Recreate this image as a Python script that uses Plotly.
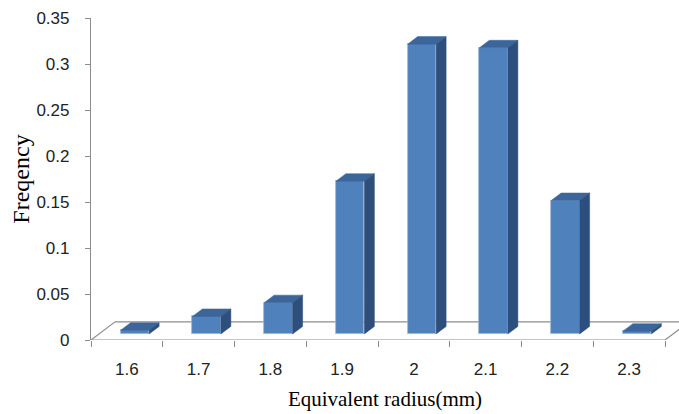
import plotly.graph_objects as go

# ---- data ----
categories = ["1.6", "1.7", "1.8", "1.9", "2", "2.1", "2.2", "2.3"]
frequency = [0.004, 0.019, 0.034, 0.166, 0.315, 0.311, 0.145, 0.003]
y_ticks = [0, 0.05, 0.1, 0.15, 0.2, 0.25, 0.3, 0.35]
y_tick_text = ["0", "0.05", "0.1", "0.15", "0.2", "0.25", "0.3", "0.35"]

# ---- pseudo-3D geometry (in axis units) ----
DEPTH_X = 0.3345    # floor depth along x (category units)
DEPTH_Y = 0.0197    # floor depth along y (value units)
D_FRONT = 1 / 3     # depth position of bar front face
D_BACK = 0.75       # depth position of bar back face
BAR_W = 0.397

FRONT = "#4F81BD"
TOP = "#3C659A"
SIDE = "#2E4F7C"
EDGE = "#9DB7DA"
AXIS = "#8C8C8C"

n = len(categories)
idx = list(range(n))
fx = DEPTH_X * D_FRONT
fy = DEPTH_Y * D_FRONT
ddx = DEPTH_X * (D_BACK - D_FRONT)
ddy = DEPTH_Y * (D_BACK - D_FRONT)

fig = go.Figure()

# front faces (bars)
fig.add_trace(go.Bar(
    x=[i + fx for i in idx], y=frequency, base=[fy] * n, width=BAR_W,
    marker=dict(color=FRONT, line=dict(color=EDGE, width=0.8)),
    hoverinfo="skip", showlegend=False,
))

# top and side faces
top_x, top_y, side_x, side_y = [], [], [], []
for i, v in zip(idx, frequency):
    xl = i + fx - BAR_W / 2
    xr = i + fx + BAR_W / 2
    yb = fy
    yt = v + fy
    top_x += [xl, xr, xr + ddx, xl + ddx, xl, None]
    top_y += [yt, yt, yt + ddy, yt + ddy, yt, None]
    side_x += [xr, xr, xr + ddx, xr + ddx, xr, None]
    side_y += [yb, yt, yt + ddy, yb + ddy, yb, None]

fig.add_trace(go.Scatter(x=top_x, y=top_y, fill="toself", fillcolor=TOP,
                         mode="lines", line=dict(color=TOP, width=0.5),
                         hoverinfo="skip", showlegend=False))
fig.add_trace(go.Scatter(x=side_x, y=side_y, fill="toself", fillcolor=SIDE,
                         mode="lines", line=dict(color=SIDE, width=0.5),
                         hoverinfo="skip", showlegend=False))

x_lo, x_hi = -0.5, n - 0.5
# floor outline
floor = [
    (x_lo, 0, x_hi, 0),
    (x_lo, 0, x_lo + DEPTH_X, DEPTH_Y),
    (x_lo + DEPTH_X, DEPTH_Y, x_hi + DEPTH_X, DEPTH_Y),
    (x_hi, 0, x_hi + DEPTH_X, DEPTH_Y),
]
for x0, y0, x1, y1 in floor:
    fig.add_shape(type="line", x0=x0, y0=y0, x1=x1, y1=y1, xref="x", yref="y",
                  line=dict(color=AXIS, width=1.2), layer="below")

fig.update_layout(
    width=679, height=414,
    margin=dict(l=91, r=0, t=18, b=74),
    plot_bgcolor="white", paper_bgcolor="white",
    bargap=0,
    xaxis=dict(
        range=[x_lo, x_lo + 588 / 71.75],
        tickmode="array", tickvals=idx, ticktext=categories,
        ticks="", showline=False, showgrid=False, zeroline=False,
        ticklabelstandoff=17,
        tickfont=dict(family="Liberation Sans", size=17, color="#222"),
        minor=dict(tickmode="array", tickvals=[i - 0.5 for i in range(n + 1)],
                   ticks="outside", ticklen=6, tickcolor=AXIS, tickwidth=1.2,
                   showgrid=False),
        title=dict(text="Equivalent radius(mm)", standoff=13,
                   font=dict(family="Liberation Serif", size=21, color="#000")),
    ),
    yaxis=dict(
        range=[0, 0.35],
        tickmode="array", tickvals=y_ticks, ticktext=y_tick_text,
        ticks="outside", ticklen=5, tickcolor=AXIS, tickwidth=1.2,
        showline=True, linecolor=AXIS, linewidth=1.2,
        showgrid=False, zeroline=False,
        ticklabelstandoff=12,
        tickfont=dict(family="Liberation Sans", size=17, color="#222"),
        title=dict(text="Freqency", standoff=0,
                   font=dict(family="Liberation Serif", size=24, color="#000")),
    ),
)

fig.write_html("out.html")
